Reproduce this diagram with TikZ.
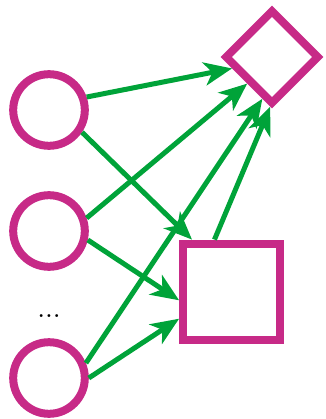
\documentclass[tikz,border=0pt]{standalone}
\usepackage{tikz}
\usetikzlibrary{shapes.geometric,arrows.meta}
\definecolor{netpink}{RGB}{199,42,135}
\definecolor{netgreen}{RGB}{0,163,57}
\begin{document}
\begin{tikzpicture}[x=0.025cm, y=-0.025cm,
        unit/.style={draw=netpink, line width=0.2cm, circle, minimum size=1.79cm, inner sep=0pt},
        sumbox/.style={draw=netpink, line width=0.2cm, rectangle, minimum size=2.42cm, inner sep=0pt},
        outbox/.style={draw=netpink, line width=0.2cm, diamond, minimum width=2.37cm, minimum height=2.37cm, inner sep=0pt},
        link/.style={draw=netgreen, line width=0.125cm, -{Stealth[length=0.7cm, width=0.58cm, inset=0.2cm]}}]
                \useasboundingbox (0,0) rectangle (325,419);
                \node[unit] (in1) at (49,110) {};
                \node[unit] (in2) at (49,231) {};
                \node[unit] (in3) at (49,378) {};
                \node[anchor=base, inner sep=0pt] (dots) at (49,317) {\Large\bfseries .\kern1pt.\kern1pt.};
                \node[sumbox] (sum) at (231.5,292) {};
                \node[outbox] (out) at (272,57) {};
                \draw[link] (in1.19) -- (out.196);
                \draw[link] (in1.-34) -- (sum.127);
                \draw[link] (in2.19) -- (out.227);
                \draw[link] (in2.-13) -- (sum.189);
                \draw[link] (in3.22) -- (out.257);
                \draw[link] (in3.0) -- (sum.207);
                \draw[link] (sum.108) -- (out.268);
            \end{tikzpicture}
\end{document}
